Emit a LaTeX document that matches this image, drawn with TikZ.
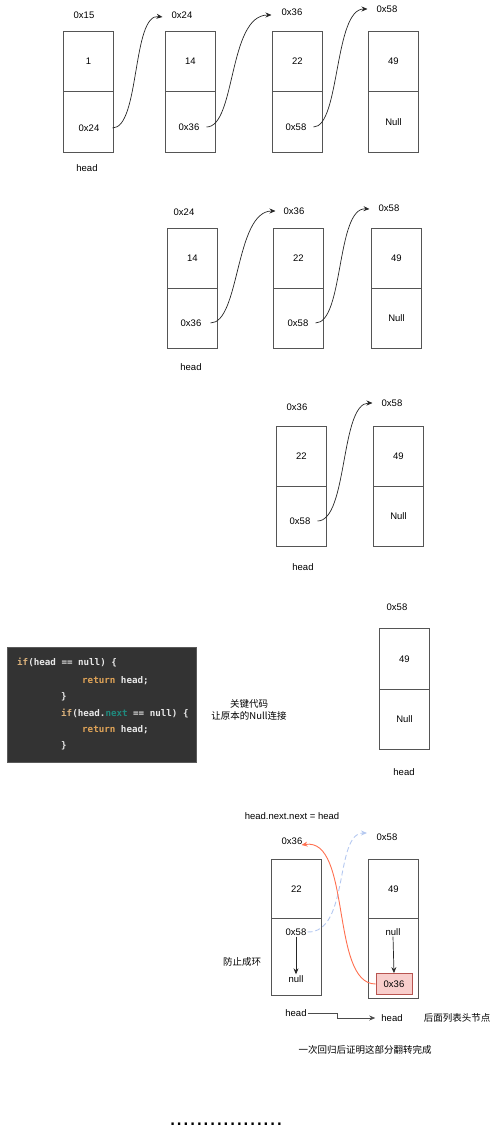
\documentclass[tikz,border=0pt]{standalone}
\usepackage{fontspec}
\setmainfont{Liberation Sans}
\newfontfamily\cjk{Noto Sans CJK SC}
\newfontfamily\mono{DejaVu Sans Mono}
\usetikzlibrary{arrows.meta,calc}
\definecolor{boxline}{HTML}{555555}
\definecolor{codebg}{HTML}{333333}
\definecolor{codeborder}{HTML}{5A5A5A}
\definecolor{kw}{HTML}{D9B07A}
\definecolor{kwret}{HTML}{E0A458}
\definecolor{codefg}{HTML}{E8E8E8}
\definecolor{teal}{HTML}{1F8A7E}
\definecolor{redarrow}{HTML}{FF7050}
\definecolor{bluearrow}{HTML}{B4C8F0}
\definecolor{pinkfill}{HTML}{F8CECC}
\definecolor{pinkline}{HTML}{B85450}
\tikzset{
  cell/.style={draw=boxline, line width=0.9pt, minimum width=50pt, inner sep=0pt, anchor=north west, font=\fontsize{9.5}{11}\selectfont},
  txt/.style={inner sep=1pt, font=\fontsize{9.5}{11}\selectfont},
  cjktxt/.style={inner sep=1pt, font=\cjk\fontsize{9.5}{11.5}\selectfont, align=center},
  codeline/.style={anchor=west, inner sep=0pt, text=codefg, font=\mono\bfseries\fontsize{9.2}{10}\selectfont},
  link/.style={-{Stealth[length=6pt,width=5pt]}, line width=0.7pt, black!85},
  redlink/.style={-{Stealth[length=6pt,width=5pt]}, line width=0.9pt, redarrow},
  bluelink/.style={-{Stealth[length=6pt,width=5pt]}, line width=0.9pt, bluearrow, dash pattern=on 5pt off 3pt},
  elbow/.style={-{Stealth[length=6pt,width=5pt]}, line width=0.7pt, black!70},
}
\begin{document}
\begin{tikzpicture}[x=1pt,y=-1pt]
\useasboundingbox (0,0) rectangle (501,1133);

% ---------- Row 1 ----------
\node[cell, minimum height=60pt] (r1a) at (63,31) {1};
\node[cell, minimum height=61pt] (r1ab) at (63,91) {};
\node[cell, minimum height=60pt] (r1b) at (165,31) {14};
\node[cell, minimum height=61pt] (r1bb) at (165,91) {};
\node[cell, minimum height=60pt] (r1c) at (272,31) {22};
\node[cell, minimum height=61pt] (r1cb) at (272,91) {};
\node[cell, minimum height=60pt] (r1d) at (368,31) {49};
\node[cell, minimum height=61pt] (r1db) at (368,91) {Null};
\node[txt] (r1p1) at (89,128) {0x24};
\node[txt] (r1p2) at (189,127) {0x36};
\node[txt] (r1p3) at (296,127) {0x58};
\node[txt] (r1l1) at (84,15) {0x15};
\node[txt] (r1l2) at (182,15) {0x24};
\node[txt] (r1l3) at (292,12) {0x36};
\node[txt] (r1l4) at (387,9) {0x58};
\node[txt] (r1h) at (87,168) {head};
\draw[link] ([xshift=12pt]r1p1.east) .. controls (140,128) and (132,13) .. ([xshift=-8pt,yshift=-2pt]r1l2.west);
\draw[link] ([xshift=6pt]r1p2.east) .. controls (236,127) and (228,15) .. ([xshift=-9pt,yshift=-3pt]r1l3.west);
\draw[link] ([xshift=6pt]r1p3.east) .. controls (340,127) and (334,9) .. ([xshift=-8pt]r1l4.west);

% ---------- Row 2 ----------
\node[cell, minimum height=60pt] (r2a) at (167,228) {14};
\node[cell, minimum height=60pt] (r2ab) at (167,288) {};
\node[cell, minimum height=60pt] (r2b) at (273,228) {22};
\node[cell, minimum height=60pt] (r2bb) at (273,288) {};
\node[cell, minimum height=60pt] (r2c) at (371,228) {49};
\node[cell, minimum height=60pt] (r2cb) at (371,288) {Null};
\node[txt] (r2p1) at (191,323) {0x36};
\node[txt] (r2p2) at (298,323) {0x58};
\node[txt] (r2l1) at (184,212) {0x24};
\node[txt] (r2l2) at (294,211) {0x36};
\node[txt] (r2l3) at (389,208) {0x58};
\node[txt] (r2h) at (191,367) {head};
\draw[link] ([xshift=8pt]r2p1.east) .. controls (240,323) and (235,211) .. ([xshift=-7pt]r2l2.west);
\draw[link] ([xshift=6pt]r2p2.east) .. controls (344,323) and (336,207) .. ([xshift=-8pt,yshift=-1pt]r2l3.west);

% ---------- Row 3 ----------
\node[cell, minimum height=60pt] (r3a) at (276,426) {22};
\node[cell, minimum height=60pt] (r3ab) at (276,486) {};
\node[cell, minimum height=60pt] (r3b) at (373,426) {49};
\node[cell, minimum height=60pt] (r3bb) at (373,486) {Null};
\node[txt] (r3p1) at (300,521) {0x58};
\node[txt] (r3l1) at (297,407) {0x36};
\node[txt] (r3l2) at (392,403) {0x58};
\node[txt] (r3h) at (303,567) {head};
\draw[link] ([xshift=6pt]r3p1.east) .. controls (348,521) and (340,403) .. ([xshift=-8pt]r3l2.west);

% ---------- Row 4 ----------
\node[cell, minimum height=61pt] (r4a) at (379,628) {49};
\node[cell, minimum height=60pt] (r4ab) at (379,689) {Null};
\node[txt] (r4l1) at (397,607) {0x58};
\node[txt] (r4h) at (404,772) {head};

% code block
\node[draw=codeborder, fill=codebg, line width=1pt, minimum width=189pt, minimum height=115pt, anchor=north west, inner sep=0pt] (code) at (7,647) {};
\node[codeline] (c1) at (17,663) {\textcolor{kw}{if}(head == null) \{};
\node[codeline] (c2) at (82,681) {\textcolor{kwret}{return} head;};
\node[codeline] (c3) at (61,697) {\}};
\node[codeline] (c4) at (61,714) {\textcolor{kw}{if}(head.\textcolor{teal}{next} == null) \{};
\node[codeline] (c5) at (82,730) {\textcolor{kwret}{return} head;};
\node[codeline] (c6) at (61,746) {\}};
\node[cjktxt] (note) at (249,710) {关键代码\\让原本的Null连接};

% ---------- Bottom section ----------
\node[txt] (eq) at (292,816) {head.next.next = head};
\node[cell, minimum height=59pt] (b1a) at (271,859) {22};
\node[cell, minimum height=77pt] (b1b) at (271,918) {};
\node[cell, minimum height=59pt] (b2a) at (368,859) {49};
\node[cell, minimum height=80pt] (b2b) at (368,918) {};
\node[txt] (bl1) at (292,841) {0x36};
\node[txt] (bl2) at (387,837) {0x58};
\node[txt] (bx58) at (296,932) {0x58};
\node[txt] (bnull1) at (296,979) {null};
\node[txt] (bnull2) at (393,932) {null};
\node[draw=pinkline, fill=pinkfill, line width=0.8pt, minimum width=36pt, minimum height=21pt, inner sep=0pt, font=\fontsize{9.5}{11}\selectfont] (pink) at (394,984) {0x36};
\draw[link] (bx58.south) -- (bnull1.north);
\draw[link] (bnull2.south) -- (pink.north);
\draw[bluelink] (bx58.east) .. controls (350,933) and (334,833) .. (367,833);
\draw[redlink] (pink.west) .. controls (330,984) and (352,837) .. ([xshift=-2pt,yshift=-4pt]bl1.east);
\node[cjktxt] (ring) at (242,962) {防止成环};
\node[txt] (bh1) at (296,1013) {head};
\node[txt] (bh2) at (392,1018) {head};
\node[cjktxt] (hnote) at (457,1018) {后面列表头节点};
\draw[elbow] (bh1.east) -- ++(30,0) |- ([xshift=-5pt]bh2.west);
\node[cjktxt] (done) at (365,1050) {一次回归后证明这部分翻转完成};
\node[inner sep=0pt, anchor=base, font=\fontsize{24}{26}\selectfont] (dots) at (226,1125) {.................};
\end{tikzpicture}
\end{document}
